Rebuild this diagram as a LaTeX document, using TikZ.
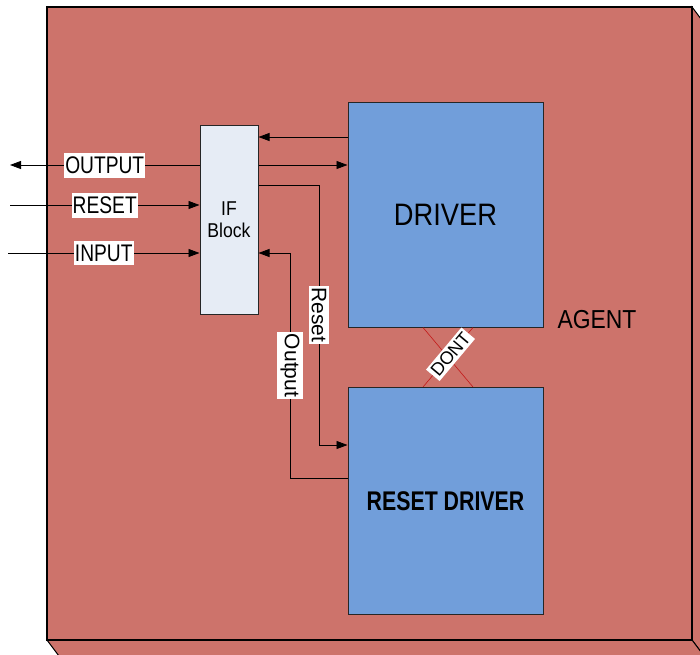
\documentclass[tikz,border=0pt]{standalone}
\usepackage{fontspec}
\setmainfont{Liberation Sans}
\newfontfamily\condfont{Liberation Sans}[FakeStretch=0.88]
\newfontfamily\lblfont{Liberation Sans}[FakeStretch=0.8]
\newfontfamily\rdfont{Liberation Sans}[FakeStretch=0.79]
\usepackage{tikz}
\usetikzlibrary{arrows.meta,positioning,calc}
\definecolor{agentred}{RGB}{205,115,107}
\definecolor{drvblue}{RGB}{113,158,218}
\definecolor{ifgray}{RGB}{230,236,245}
\definecolor{dontred}{RGB}{195,25,25}

\begin{document}
\begin{tikzpicture}[x=1pt,y=-1pt,
  blk/.style={draw=black!85,line width=1pt,fill=drvblue,inner sep=0pt},
  conn/.style={line width=0.8pt,-{Triangle[length=11pt,width=8pt]}},
  lbl/.style={fill=white,inner xsep=1pt,inner ysep=4pt,font=\lblfont\fontsize{24}{24}\selectfont},
  vlbl/.style={fill=white,rotate=-90,inner xsep=1.5pt,inner ysep=3pt,font=\fontsize{21}{22}\selectfont}]
  \useasboundingbox (0,0) rectangle (700,654);
  % 箱(エージェント)：側面と底面は画像の端で切れる
  \begin{scope}
    \clip (0,0) rectangle (700,654);
    \draw[line width=1pt,fill=agentred] (692,7) -- (704,23) -- (704,656) -- (692,640) -- cycle;
    \draw[line width=1pt,fill=agentred] (47,640) -- (692,640) -- (704,656) -- (59,656) -- cycle;
    \draw[line width=1.4pt,fill=agentred] (47,7) rectangle (692,640);
  \end{scope}
  \node[font=\condfont\fontsize{26}{26}\selectfont] (agent) at (597,320) {AGENT};
  % ブロック
  \node[blk,minimum width=195pt,minimum height=225pt,font=\condfont\fontsize{31}{32}\selectfont] (drv) at (445.5,214.5) {DRIVER};
  \node[blk,minimum width=195pt,minimum height=227pt,font=\rdfont\bfseries\fontsize{27}{28}\selectfont] (rdrv) at (445.5,501) {RESET DRIVER};
  \node[blk,fill=ifgray,minimum width=58pt,minimum height=189pt,align=center,font=\condfont\fontsize{20}{22}\selectfont] (ifb) at (229,219.5) {IF\\Block};
  % 信号の高さと縦線の位置
  \coordinate (r1) at (0,137);
  \coordinate (r2) at (0,165);
  \coordinate (r3) at (0,185);
  \coordinate (r4) at (0,205);
  \coordinate (r5) at (0,253);
  \coordinate (r6) at (0,445);
  \coordinate (r7) at (0,478);
  \coordinate (c1) at (319,0);
  \coordinate (c2) at (290,0);
  \coordinate (outend) at (10,165);
  \coordinate (rstin) at (10,205);
  \coordinate (inpin) at (8,253);
  % 外部との信号
  \draw[conn] (ifb.west |- r2) -- (outend) node[midway,lbl]{OUTPUT};
  \draw[conn] (rstin) -- (ifb.west |- r4) node[midway,lbl]{RESET};
  \draw[conn] (inpin) -- (ifb.west |- r5) node[midway,lbl]{INPUT};
  % IF Block と DRIVER
  \draw[conn] (drv.west |- r1) -- (ifb.east |- r1);
  \draw[conn] (ifb.east |- r2) -- (drv.west |- r2);
  % IF Block と RESET DRIVER
  \draw[conn] (ifb.east |- r3) -| (c1 |- r6) node[pos=0.75,vlbl]{Reset} -- (rdrv.west |- r6);
  \draw[conn] (rdrv.west |- r7) -| (c2 |- r5) node[pos=0.75,vlbl]{Output} -- (ifb.east |- r5);
  % 二つのドライバの間の禁止(DONT)
  \coordinate (xa) at (423,0);
  \coordinate (xb) at (473,0);
  \draw[dontred,line width=0.6pt] (drv.south -| xa) -- (rdrv.north -| xb);
  \draw[dontred,line width=0.6pt] (rdrv.north -| xa) -- (drv.south -| xb)
    node[pos=0.55,sloped,fill=white,inner xsep=2pt,inner ysep=2.5pt,text=black,font=\fontsize{18}{18}\selectfont]{DONT};
\end{tikzpicture}
\end{document}
